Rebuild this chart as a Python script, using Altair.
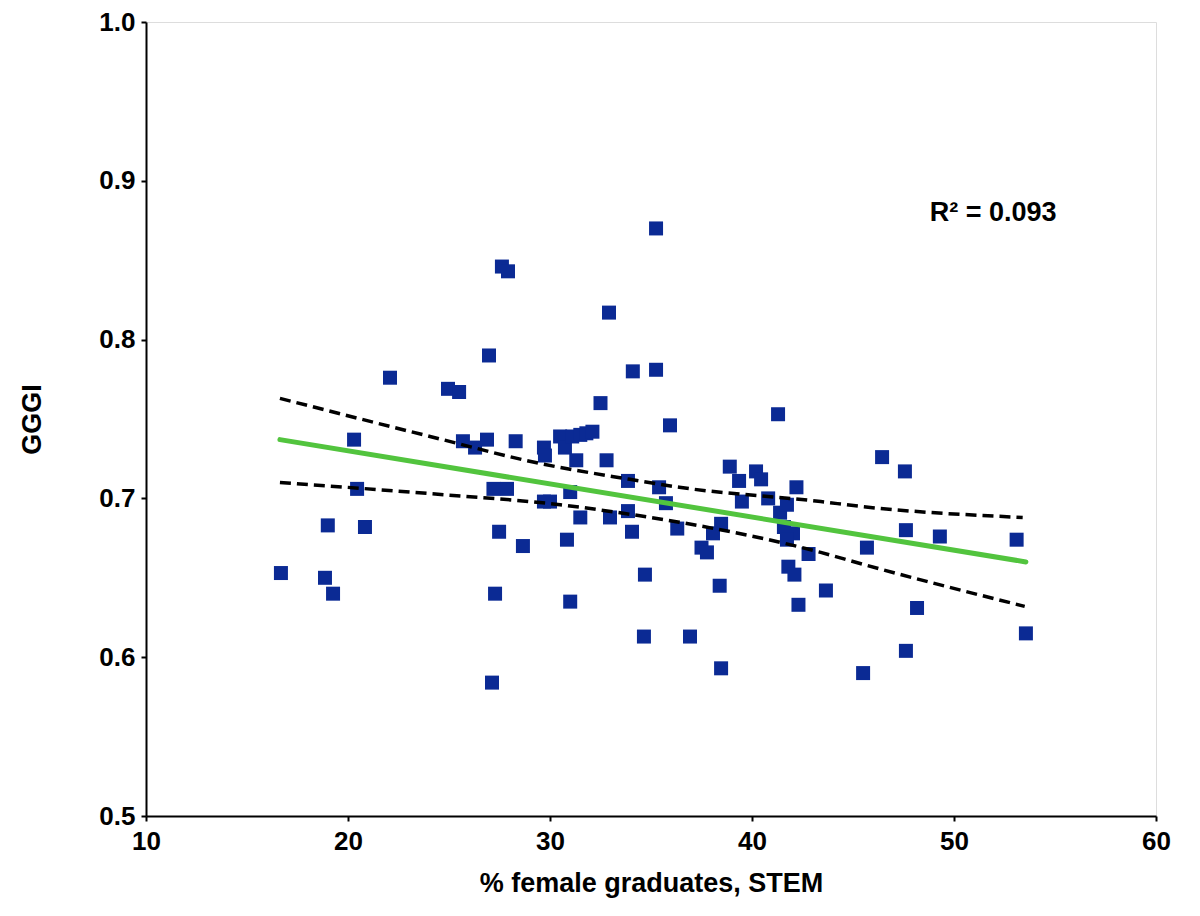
import altair as alt
import pandas as pd

# Data
stem_pct = [16.68, 18.86, 19.26, 19.0, 20.3, 20.45, 20.84, 22.08, 24.95, 25.5,
            25.69, 26.29, 26.88, 26.98, 27.13, 27.2, 27.28, 27.48, 27.62, 27.92,
            27.87, 28.3, 28.66, 29.7, 29.75, 29.7, 30.0, 30.5, 30.74, 30.84,
            31.0, 31.0, 31.1, 31.3, 31.5, 31.5, 31.8, 32.1, 32.5, 32.8,
            32.92, 32.97, 33.86, 33.86, 34.06, 34.1, 34.65, 34.7, 35.25, 35.25,
            35.4, 35.74, 35.94, 36.3, 36.93, 37.5, 37.77, 38.07, 38.47, 38.4,
            38.47, 38.9, 39.36, 39.5, 40.2, 40.45, 40.8, 41.29, 41.39, 41.73,
            41.58, 42.03, 41.73, 42.2, 42.8, 41.8, 42.1, 42.3, 43.66, 45.5,
            45.69, 46.44, 47.57, 47.62, 47.62, 48.17, 49.3, 53.1, 53.56]
gggi = [0.653, 0.650, 0.640, 0.683, 0.737, 0.706, 0.682, 0.776, 0.769, 0.767,
        0.736, 0.732, 0.737, 0.790, 0.584, 0.706, 0.640, 0.679, 0.846, 0.843,
        0.706, 0.736, 0.670, 0.732, 0.727, 0.698, 0.698, 0.739, 0.732, 0.674,
        0.704, 0.635, 0.739, 0.724, 0.688, 0.740, 0.741, 0.742, 0.760, 0.724,
        0.817, 0.688, 0.711, 0.692, 0.679, 0.780, 0.613, 0.652, 0.870, 0.781,
        0.707, 0.697, 0.746, 0.681, 0.613, 0.669, 0.666, 0.678, 0.684, 0.645,
        0.593, 0.720, 0.711, 0.698, 0.717, 0.712, 0.700, 0.753, 0.691, 0.696,
        0.682, 0.678, 0.674, 0.707, 0.665, 0.657, 0.652, 0.633, 0.642, 0.590,
        0.669, 0.726, 0.717, 0.680, 0.604, 0.631, 0.676, 0.674, 0.615]

fit_x = [16.63, 53.56]
fit_y = [0.737, 0.660]

upper_x = [16.63, 24.06, 29.5, 33.96, 36.4, 43.4, 45.35, 53.4]
upper_y = [0.763, 0.739, 0.722, 0.712, 0.707, 0.698, 0.695, 0.688]
lower_x = [16.63, 24.06, 30.5, 33.96, 36.4, 43.4, 45.35, 53.5]
lower_y = [0.710, 0.703, 0.696, 0.690, 0.685, 0.666, 0.659, 0.632]

r2_label = ["R² = 0.093"]

FONT = "Liberation Sans"

pts = pd.DataFrame({"x": stem_pct, "y": gggi})
fit = pd.DataFrame({"x": fit_x, "y": fit_y})
ci = pd.concat([
    pd.DataFrame({"x": upper_x, "y": upper_y, "band": "upper"}),
    pd.DataFrame({"x": lower_x, "y": lower_y, "band": "lower"}),
])

xscale = alt.Scale(domain=[10, 60], nice=False, zero=False)
yscale = alt.Scale(domain=[0.5, 1.0], nice=False, zero=False)

xaxis = alt.Axis(title="% female graduates, STEM", values=[10, 20, 30, 40, 50, 60],
                 format="d", grid=False, domainColor="black", domainWidth=2,
                 tickColor="black", tickWidth=2, tickSize=5,
                 labelFont=FONT, labelFontSize=26, labelFontWeight="bold",
                 labelColor="black", labelPadding=7, labelFlush=False,
                 titleFont=FONT, titleFontSize=27, titleFontWeight="bold",
                 titleColor="black", titlePadding=16)
yaxis = alt.Axis(title="GGGI", values=[0.5, 0.6, 0.7, 0.8, 0.9, 1.0],
                 format=".1f", grid=False, domainColor="black", domainWidth=2,
                 tickColor="black", tickWidth=2, tickSize=5,
                 labelFont=FONT, labelFontSize=26, labelFontWeight="bold",
                 labelColor="black", labelPadding=6, labelFlush=False,
                 titleFont=FONT, titleFontSize=27, titleFontWeight="bold",
                 titleColor="black", titlePadding=52)

points = alt.Chart(pts).mark_point(shape="square", filled=True, size=196,
                                   color="#0b2a94", opacity=1).encode(
    x=alt.X("x:Q", scale=xscale, axis=xaxis),
    y=alt.Y("y:Q", scale=yscale, axis=yaxis),
)

ci_lines = alt.Chart(ci).mark_line(color="black", strokeWidth=3.5,
                                   strokeDash=[11, 6], interpolate="monotone").encode(
    x=alt.X("x:Q", scale=xscale),
    y=alt.Y("y:Q", scale=yscale),
    detail="band:N",
)

fit_line = alt.Chart(fit).mark_line(color="#52c43e", strokeWidth=5,
                                    strokeCap="round").encode(
    x=alt.X("x:Q", scale=xscale),
    y=alt.Y("y:Q", scale=yscale),
)

r2 = alt.Chart(pd.DataFrame({"t": r2_label})).mark_text(
    font=FONT, fontSize=27, fontWeight="bold", color="black",
    align="left", baseline="middle").encode(
    x=alt.datum(48.8), y=alt.datum(0.880), text="t:N")

chart = alt.layer(points, ci_lines, fit_line, r2).properties(
    width=1010, height=794,
    padding={"left": 138, "top": 14, "right": 30, "bottom": 90},
    autosize=alt.AutoSizeParams(type="none"),
).configure_view(stroke=None).configure(background="white")

chart.save("out.html", embed_options={"renderer": "svg", "actions": False})
